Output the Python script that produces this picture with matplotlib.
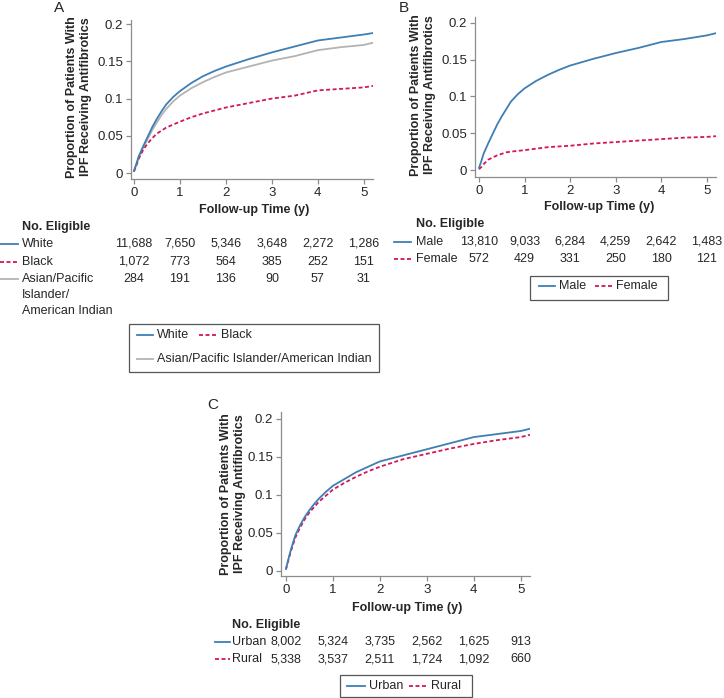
import matplotlib

matplotlib.use("Agg")

import matplotlib.pyplot as plt
from matplotlib.lines import Line2D
from matplotlib.patches import Rectangle
from matplotlib.transforms import blended_transform_factory

plt.rcParams["font.family"] = ["Liberation Sans", "DejaVu Sans"]

W, H = 724, 698

# follow-up time (years) at which the curves were read
time_y = [0, 0.05, 0.1, 0.2, 0.3, 0.4, 0.5, 0.6, 0.7, 0.85, 1.0, 1.25, 1.5,
          1.75, 2.0, 2.5, 3.0, 3.5, 4.0, 4.5, 5.0, 5.2]

# panel A: race
white = [0.003, 0.012, 0.022, 0.036, 0.049, 0.062, 0.073, 0.083, 0.092, 0.102,
         0.110, 0.121, 0.130, 0.137, 0.143, 0.153, 0.162, 0.170, 0.178, 0.182,
         0.186, 0.188]
black = [0.002, 0.010, 0.019, 0.031, 0.040, 0.047, 0.053, 0.057, 0.061, 0.065,
         0.069, 0.075, 0.080, 0.084, 0.088, 0.094, 0.100, 0.104, 0.111, 0.113,
         0.115, 0.117]
asian = [0.003, 0.011, 0.020, 0.034, 0.046, 0.058, 0.068, 0.078, 0.086, 0.096,
         0.104, 0.114, 0.122, 0.129, 0.135, 0.143, 0.151, 0.157, 0.165, 0.169,
         0.172, 0.175]

# panel B: sex
male = [0.003, 0.012, 0.022, 0.036, 0.049, 0.062, 0.073, 0.083, 0.093, 0.103,
        0.111, 0.121, 0.129, 0.136, 0.142, 0.151, 0.159, 0.166, 0.174, 0.178,
        0.183, 0.186]
female = [0.001, 0.004, 0.008, 0.014, 0.017, 0.020, 0.022, 0.024, 0.025, 0.026,
          0.027, 0.029, 0.031, 0.032, 0.033, 0.036, 0.038, 0.040, 0.042, 0.044,
          0.045, 0.046]

# panel C: rurality
urban = [0.003, 0.015, 0.027, 0.047, 0.060, 0.071, 0.080, 0.088, 0.095, 0.104,
         0.112, 0.121, 0.130, 0.137, 0.144, 0.152, 0.160, 0.168, 0.176, 0.180,
         0.184, 0.187]
rural = [0.002, 0.014, 0.025, 0.044, 0.057, 0.068, 0.077, 0.084, 0.091, 0.099,
         0.107, 0.116, 0.124, 0.131, 0.137, 0.147, 0.154, 0.161, 0.167, 0.172,
         0.176, 0.179]

risk_times = [0, 1, 2, 3, 4, 5]
elig_white = ["11,688", "7,650", "5,346", "3,648", "2,272", "1,286"]
elig_black = ["1,072", "773", "564", "385", "252", "151"]
elig_asian = ["284", "191", "136", "90", "57", "31"]
elig_male = ["13,810", "9,033", "6,284", "4,259", "2,642", "1,483"]
elig_female = ["572", "429", "331", "250", "180", "121"]
elig_urban = ["8,002", "5,324", "3,735", "2,562", "1,625", "913"]
elig_rural = ["5,338", "3,537", "2,511", "1,724", "1,092", "660"]

yticks = [0, 0.05, 0.1, 0.15, 0.2]
ytick_labels = ["0", "0.05", "0.1", "0.15", "0.2"]

BLUE = "#3f7fb3"
RED = "#d2175a"
GRAY = "#b3b3b3"
SPINE = "#8c8c8c"
TXT = "#262626"
FS = 9

STYLE = {
    "blue": dict(color=BLUE, lw=1.3, ls="-"),
    "red": dict(color=RED, lw=1.3, ls=(0, (2.2, 1.4))),
    "gray": dict(color=GRAY, lw=1.3, ls="-"),
}

fig = plt.figure(figsize=(W / 100, H / 100), dpi=100)


def fx(px):
    return px / W


def fy(py):
    return 1 - py / H


def make_axes(box, xlim, ylim):
    left, right, top, bottom = box
    ax = fig.add_axes([fx(left), fy(bottom), (right - left) / W, (bottom - top) / H])
    ax.set_xlim(*xlim)
    ax.set_ylim(*ylim)
    for s in ("top", "right"):
        ax.spines[s].set_visible(False)
    for s in ("left", "bottom"):
        ax.spines[s].set_color(SPINE)
        ax.spines[s].set_linewidth(0.9)
    ax.set_xticks(risk_times)
    ax.set_yticks(yticks)
    ax.set_yticklabels(ytick_labels)
    ax.tick_params(colors=SPINE, labelcolor=TXT, labelsize=FS + 0.5,
                   length=3.5, width=0.9, pad=2)
    return ax


def ylabel(x, y):
    fig.text(fx(x), fy(y), "Proportion of Patients With\nIPF Receiving Antifibrotics",
             rotation=90, ha="center", va="center", fontsize=FS,
             fontweight="bold", color=TXT, linespacing=1.15)


def row_text(ax, name, style, counts, yrow, label_x, line_x):
    tr = blended_transform_factory(ax.transData, fig.transFigure)
    fig.add_artist(Line2D([fx(line_x[0]), fx(line_x[1])], [fy(yrow), fy(yrow)],
                          **STYLE[style]))
    fig.text(fx(label_x), fy(yrow), name, ha="left", va="center",
             fontsize=FS, color=TXT)
    for t, c in zip(risk_times, counts):
        ax.text(t, fy(yrow), c, transform=tr, ha="center", va="center",
                fontsize=FS, color=TXT)


def risk_table(ax, xlabel_xy, head_xy, rows, label_x, line_x):
    fig.text(fx(xlabel_xy[0]), fy(xlabel_xy[1]), "Follow-up Time (y)",
             ha="center", va="center", fontsize=FS, fontweight="bold", color=TXT)
    fig.text(fx(head_xy[0]), fy(head_xy[1]), "No. Eligible",
             ha="left", va="center", fontsize=FS, fontweight="bold", color=TXT)
    for name, style, counts, yrow in rows:
        row_text(ax, name, style, counts, yrow, label_x, line_x)


def legend_box(box, rows):
    left, right, top, bottom = box
    fig.add_artist(Rectangle((fx(left), fy(bottom)), (right - left) / W,
                             (bottom - top) / H, fill=False, ec="#555555", lw=0.9))
    for yrow, items in rows:
        for x0, x1, style, name in items:
            fig.add_artist(Line2D([fx(x0), fx(x1)], [fy(yrow), fy(yrow)], **STYLE[style]))
            fig.text(fx(x1 + 4), fy(yrow), name, ha="left", va="center",
                     fontsize=FS, color=TXT)


# ---- panel A ----
axA = make_axes((131, 373, 20, 179), (-0.065, 5.2), (-0.008, 0.2055))
axA.plot(time_y, asian, **STYLE["gray"])
axA.plot(time_y, black, **STYLE["red"])
axA.plot(time_y, white, **STYLE["blue"])
fig.text(fx(54), fy(8), "A", ha="left", va="center", fontsize=11, color=TXT)
ylabel(79, 97)
risk_table(axA, (254, 210), (22, 227),
           [("White", "blue", elig_white, 244),
            ("Black", "red", elig_black, 262),
            ("Asian/Pacific", "gray", elig_asian, 279)],
           22, (0, 18))
fig.text(fx(22), fy(295), "Islander/", ha="left", va="center", fontsize=FS, color=TXT)
fig.text(fx(22), fy(311), "American Indian", ha="left", va="center", fontsize=FS, color=TXT)
legend_box((129, 379, 324, 372),
           [(335, [(137, 153, "blue", "White"), (199, 217, "red", "Black")]),
            (359, [(137, 153, "gray", "Asian/Pacific Islander/American Indian")])])

# ---- panel B ----
axB = make_axes((475, 716, 17, 177), (-0.088, 5.2), (-0.0095, 0.208))
axB.plot(time_y, female, **STYLE["red"])
axB.plot(time_y, male, **STYLE["blue"])
fig.text(fx(399), fy(8), "B", ha="left", va="center", fontsize=11, color=TXT)
ylabel(423, 95)
risk_table(axB, (599, 207), (416, 224),
           [("Male", "blue", elig_male, 242),
            ("Female", "red", elig_female, 259)],
           416, (394, 411))
legend_box((530, 668, 276, 300),
           [(286, [(539, 555, "blue", "Male"), (595, 612, "red", "Female")])])

# ---- panel C ----
axC = make_axes((281, 530, 412, 576), (-0.106, 5.2), (-0.0066, 0.209))
axC.plot(time_y, rural, **STYLE["red"])
axC.plot(time_y, urban, **STYLE["blue"])
fig.text(fx(207), fy(405), "C", ha="left", va="center", fontsize=11, color=TXT)
ylabel(233, 494)
risk_table(axC, (407, 608), (232, 625),
           [("Urban", "blue", elig_urban, 642),
            ("Rural", "red", elig_rural, 659)],
           232, (215, 230))
legend_box((340, 472, 675, 697),
           [(686, [(347, 365, "blue", "Urban"), (409, 427, "red", "Rural")])])

fig.savefig("out.png", dpi=100)
